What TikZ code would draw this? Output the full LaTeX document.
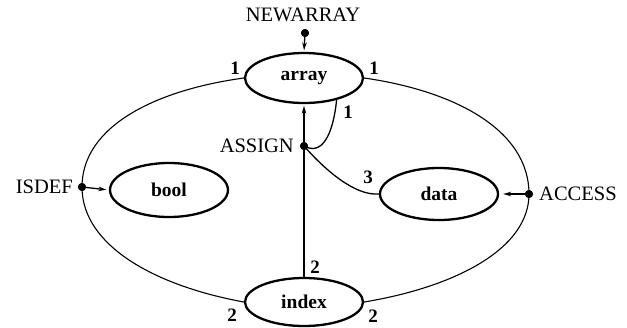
\documentclass[tikz,border=0pt]{standalone}
\usepackage{fontspec}
\setmainfont{Liberation Serif}
\usetikzlibrary{arrows.meta,shapes.geometric}
\begin{document}
\begin{tikzpicture}[x=1pt,y=-1pt,
  sortnode/.style={draw,ellipse,line width=2.3pt,minimum width=118pt,inner sep=0pt,fill=white,
    font=\fontsize{19.5}{22}\selectfont\bfseries},
  opname/.style={inner sep=0pt,font=\fontsize{20.5}{24}\selectfont},
  num/.style={inner sep=0pt,font=\fontsize{19}{22}\selectfont\bfseries},
  opdot/.style={circle,fill=black,inner sep=0pt,minimum size=8pt},
  outer/.style={line width=1.1pt},
  conn/.style={line width=1.3pt},
  arr/.style={conn,-{Stealth[length=8pt,width=4.5pt]},shorten >=1.5pt}]
\useasboundingbox (0,0) rectangle (627,327);
% sort nodes
\node[sortnode,minimum height=50pt] (array) at (304,78) {array};
\node[sortnode,minimum height=54pt] (bool) at (169,190) {bool};
\node[sortnode,minimum height=52pt] (data) at (439,194) {data};
\node[sortnode,minimum height=48pt] (index) at (304,302) {index};
% operation dots
\node[opdot] (newd) at (305,33) {};
\node[opdot] (assign) at (304,146) {};
\node[opdot] (isdef) at (82,187) {};
\node[opdot] (access) at (529,194) {};
% operation names
\node[opname] (tnew) at (303,15) {NEWARRAY};
\node[opname,anchor=east] (tassign) at (294,146) {ASSIGN};
\node[opname,anchor=east] (tisdef) at (73,187) {ISDEF};
\node[opname,anchor=west] (taccess) at (539,194) {ACCESS};
% outer arcs
\draw[outer] (array.west) .. controls (156,90) and (82,126) .. (isdef.center);
\draw[outer] (isdef.center) .. controls (82,246) and (156,286) .. (index.west);
\draw[outer] (array.east) .. controls (455,91) and (529,130) .. (access.center);
\draw[outer] (access.center) .. controls (529,249) and (455,287) .. (index.east);
% inner connectors
\draw[conn] (index.north) -- (assign.center);
\draw[arr] (assign.center) -- (array.south);
\draw[conn] (array.-34) .. controls (333,135) and (322,156) .. (assign.center);
\draw[conn] (assign.center) .. controls (325,170) and (355,196) .. (data.west);
\draw[arr] (newd.center) -- (array.north);
\draw[arr,shorten >=2.5pt] (isdef.center) -- (bool.west);
\draw[arr,shorten >=4pt] (access.center) -- (data.east);
% redraw dots on top
\fill (newd) circle (4pt) (assign) circle (4pt) (isdef) circle (4pt) (access) circle (4pt);
% numbers
\node[num] (n1) at (235,68) {1};
\node[num] (n2) at (374,68) {1};
\node[num] (n3) at (348,112) {1};
\node[num] (n4) at (368,177) {3};
\node[num] (n5) at (315,267) {2};
\node[num] (n6) at (232,315) {2};
\node[num] (n7) at (373,316) {2};
\end{tikzpicture}
\end{document}
